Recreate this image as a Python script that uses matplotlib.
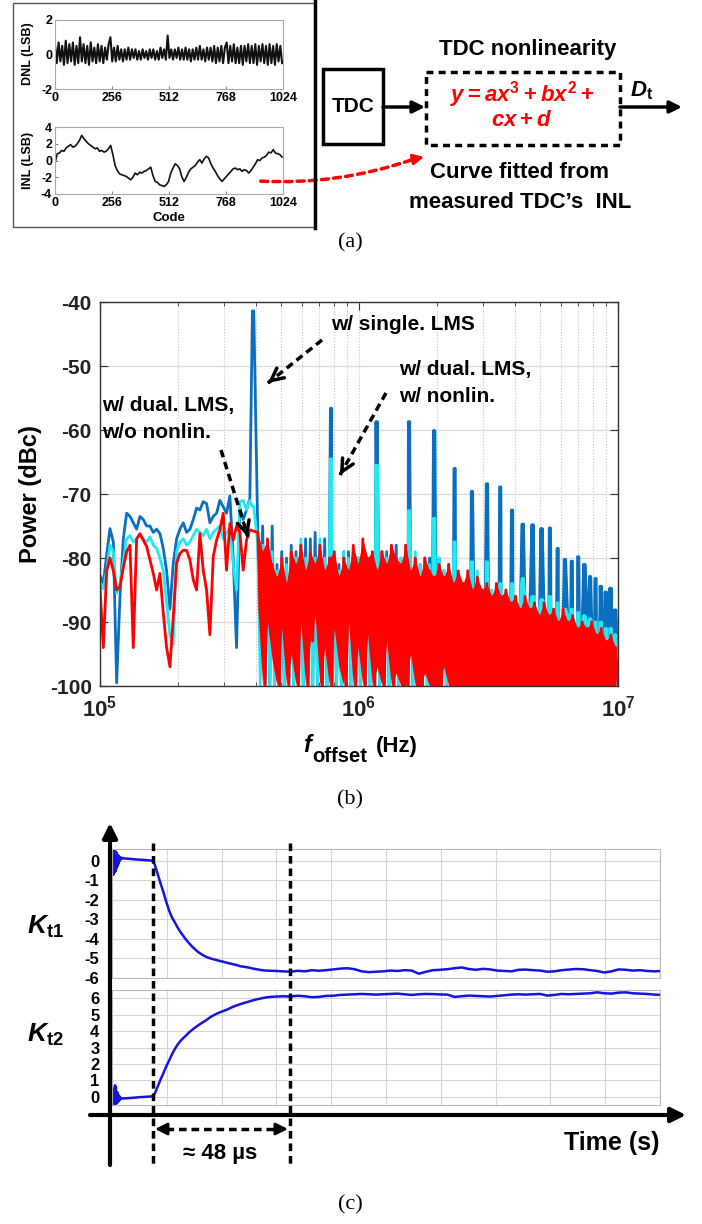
import numpy as np
import matplotlib.pyplot as plt
from matplotlib.patches import Rectangle, FancyArrowPatch

W, H = 702, 1224

plt.rcParams['font.family'] = 'Liberation Sans'
plt.rcParams['font.weight'] = 'bold'
plt.rcParams['axes.unicode_minus'] = False
plt.rcParams['mathtext.fontset'] = 'custom'
plt.rcParams['mathtext.rm'] = 'Liberation Sans:bold'
plt.rcParams['mathtext.it'] = 'Liberation Sans:italic:bold'
plt.rcParams['mathtext.bf'] = 'Liberation Sans:bold'

# ---------------- (a) measured TDC linearity ----------------
code_ticks = [0, 256, 512, 768, 1024]
dnl_code = np.linspace(0, 1020, 128)
dnl_lsb = [0.6, -0.5, 0.7, -0.4, 0.5, -0.6, 0.8, -0.5, 0.6, -0.4,
           0.7, -0.6, 0.5, -0.5, 1.0, -0.4, 0.6, -0.5, 0.5, -0.6,
           0.7, -0.4, 0.4, -0.5, 0.6, -0.4, 0.5, -0.5, 0.4, -0.3,
           0.6, 1.0, -0.4, 0.4, -0.4, 0.5, -0.3, 0.3, -0.4, 0.3,
           -0.3, 0.4, -0.3, 0.3, -0.2, 0.3, -0.3, 0.2, -0.3, 0.3,
           -0.2, 0.2, -0.3, 0.3, -0.2, 0.3, -0.3, 0.2, -0.3, 0.4,
           -0.2, 0.3, -0.3, 1.1, -0.2, 0.3, -0.3, 0.3, -0.2, 0.4,
           -0.3, 0.3, -0.3, 0.4, -0.3, 0.3, -0.4, 0.3, -0.3, 0.4,
           -0.3, 0.5, -0.3, 0.3, -0.4, 0.4, -0.3, 0.4, -0.4, 0.5,
           -0.5, 0.4, -0.4, 0.5, -0.5, 0.4, 0.7, -0.5, 0.5, -0.4,
           0.6, -0.5, 0.4, -0.5, 0.5, -0.6, 0.5, -0.4, 0.6, -0.5,
           0.5, -0.5, 0.6, -0.6, 0.5, -0.4, 0.6, -0.5, 0.5, -0.6,
           0.6, -0.5, 0.5, -0.6, 0.6, -0.4, 0.5, -0.5]
inl_code = np.arange(0, 1021, 10)
inl_lsb = [-0.3, 0.8, 0.9, 1.2, 1.1, 1.5, 1.7, 1.9, 1.6, 1.7,
           2.0, 2.4, 3.0, 2.6, 2.3, 2.0, 1.8, 1.6, 1.4, 1.5,
           1.1, 1.2, 1.0, 1.1, 1.4, 1.8, 0.7, -0.6, -1.2, -1.6,
           -1.7, -1.8, -1.9, -2.1, -2.3, -2.0, -1.5, -1.7, -1.4, -1.5,
           -1.3, -1.2, -1.0, -0.8, -1.8, -2.5, -2.6, -2.9, -3.0, -3.1,
           -2.9, -2.5, -1.5, -0.9, -0.4, -0.6, -1.0, -2.0, -2.5, -2.0,
           -1.4, -1.0, -0.8, -0.6, -0.2, 0.1, -0.3, 0.2, 0.5, 0.3,
           -0.4, -0.9, -1.3, -1.8, -2.2, -2.5, -2.2, -1.9, -1.6, -1.3,
           -1.0, -0.9, -1.1, -1.0, -1.3, -1.1, -1.2, -1.5, -1.2, -0.8,
           -0.4, 0.1, 0.0, 0.3, 0.4, 0.6, 1.0, 0.9, 1.3, 0.9,
           0.8, 0.7, 0.4]

# ---------------- (b) phase-noise spectra ----------------
f_low = np.geomspace(1e5, 3.79e5, 46)
blue_low = [-82.7, -84.0, -79.5, -75.4, -77.5, -99.5, -86.0, -77.0, -73.0, -73.5,
            -74.5, -75.5, -73.5, -74.0, -75.0, -75.0, -76.0, -75.5, -76.2, -78.5,
            -82.0, -88.0, -80.8, -77.0, -75.5, -74.5, -76.0, -75.5, -74.0, -72.2,
            -72.5, -71.2, -71.5, -74.5, -73.5, -73.0, -71.0, -72.0, -73.0, -70.3,
            -80.0, -94.0, -72.2, -74.0, -72.5, -70.7]
cyan_low = [-84.0, -84.8, -82.0, -78.0, -79.0, -85.5, -84.0, -80.5, -77.0, -76.5,
            -77.5, -77.0, -76.5, -77.0, -77.5, -76.7, -78.0, -78.5, -80.0, -82.0,
            -87.0, -92.0, -93.5, -79.0, -77.5, -77.0, -78.0, -77.5, -76.5, -75.5,
            -76.0, -76.5, -75.5, -77.0, -76.0, -75.5, -75.0, -77.0, -76.0, -75.5,
            -81.0, -85.0, -71.2, -71.0, -72.5, -71.0]
red_low = [-84.7, -94.0, -82.0, -80.0, -82.0, -85.0, -84.5, -81.5, -79.0, -78.0,
           -94.0, -77.0, -76.2, -77.2, -78.2, -80.3, -82.4, -85.0, -82.4, -88.6,
           -94.0, -97.0, -89.2, -80.8, -79.3, -78.8, -78.8, -80.3, -83.4, -85.0,
           -76.2, -81.9, -85.0, -92.0, -79.8, -77.2, -75.6, -73.0, -81.9, -74.6,
           -77.2, -75.0, -76.0, -81.9, -77.2, -75.6]

# dense part above ~400 kHz: peak / trough pairs
f_dense = np.geomspace(4.07e5, 1e7, 152)
red_hi = [-76, -79, -77, -81, -83, -80, -84, -79, -81, -78,
          -82, -79, -81, -78, -82, -80, -79, -83, -80, -82,
          -78, -81, -77, -80, -79, -82, -79, -81, -78, -80,
          -81, -78, -82, -80, -83, -80, -82, -83, -81, -83,
          -81, -84, -82, -84, -82, -85, -83, -85, -84, -86,
          -84, -86, -85, -87, -86, -88, -86, -88, -87, -89,
          -87, -89, -88, -90, -88, -90, -89, -91, -90, -91,
          -90, -92, -91, -93, -92, -94]
red_lo = [-88, -100, -90, -96, -100, -91, -100, -95, -100, -90,
          -100, -93, -89, -100, -94, -100, -91, -97, -100, -90,
          -100, -94, -100, -92, -100, -97, -100, -93, -100, -98,
          -100, -100, -95, -100, -100, -98, -100, -100, -100, -97] + [-100] * 36
cyan_hi = [-78, -78, -79, -79, -82, -80, -81, -79, -80, -77,
           -80, -79, -80, -77, -80, -80, -79, -82, -79, -80,
           -80, -80, -79, -81, -80, -81, -80, -80, -78, -80,
           -80, -79, -80, -79, -81, -80, -81, -81, -80, -82,
           -82, -82, -83, -84, -82, -85, -82, -86, -84, -85,
           -85, -85, -85, -87, -87, -87, -86, -88, -86, -88,
           -87, -88, -88, -90, -88, -89, -89, -90, -90, -91,
           -90, -91, -91, -92, -92, -93]
cyan_lo = [-100, -95, -100, -100, -96, -100, -100, -100, -97, -100,
           -94, -100, -100, -96, -100, -100, -100, -100, -96, -100,
           -100, -100, -97, -100, -100, -100, -96, -100, -100, -100] + [-100] * 46
blue_hi = [-77, -75, -78, -75, -81, -79, -80, -78, -79, -78,
           -77, -77, -76, -79, -77, -80, -80, -81, -79, -79,
           -79, -80, -79, -81, -80, -80, -79, -79, -79, -78,
           -80, -78, -80, -80, -81, -80, -80, -81, -80, -82,
           -81, -83, -83, -84, -83, -85, -83, -85, -85, -86,
           -84, -86, -86, -87, -86, -88, -87, -88, -87, -89,
           -88, -89, -88, -90, -89, -90, -89, -91, -90, -91,
           -90, -92, -91, -93, -92, -94]
blue_lo = [-94, -100, -100, -98, -100, -100, -97, -100, -100, -100] + [-100] * 66

# spurs at harmonics of the ~390 kHz fractional spur
f_spur0 = 3.9e5
harmonic = np.arange(1, 26)
blue_spur = [-41.4, -56.6, -58.7, -58.7, -60.1, -66.0, -69.6, -68.4, -68.9, -72.5,
             -74.7, -74.8, -75.4, -75.3, -78.5, -80.2, -80.5, -79.8, -81.0, -82.9,
             -83.2, -84.4, -85.3, -84.7, -88.1]
cyan_spur = [-72.0, -64.5, -65.5, -72.6, -73.8, -77.5, -80.6, -80.6, -84.0, -84.0,
             -83.2, -86.0, -86.5, -86.0, -87.0, -88.0, -88.0, -88.5, -89.0, -89.5,
             -90.0, -90.0, -91.0, -91.0, -92.0]

# ---------------- (c) LMS convergence ----------------
t_ring = [0, 0.15, 0.3, 0.45, 0.6, 0.75, 0.9, 1.05, 1.2, 1.35, 1.5, 1.65, 1.8, 1.95,
          2.1, 2.25, 2.4, 2.55, 2.7, 2.85, 3.0, 3.5]
kt1_ring = [0.1, 0.68, -0.72, 0.6, -0.7, 0.62, -0.6, 0.5, -0.55, 0.45, -0.4, 0.4,
            -0.3, 0.3, -0.2, 0.25, -0.1, 0.2, 0.0, 0.18, 0.05, 0.15]
kt2_ring = [0.0, 0.35, -0.6, 0.3, -0.55, 0.5, -0.5, 0.7, -0.45, 0.6, -0.4, 0.3,
            -0.35, 0.25, -0.3, 0.1, -0.25, 0.05, -0.2, -0.05, -0.15, -0.1]
t_flat = [4, 6, 8, 10, 12, 14.3]
kt1_flat = [0.12, 0.1, 0.07, 0.05, 0.03, 0.0]
kt2_flat = [-0.1, -0.08, -0.05, -0.02, 0.0, 0.03]
t_rise = [15, 16, 17, 18, 19, 20, 21, 22, 23, 24, 25, 26, 27, 28, 29, 30,
          31.5, 33, 34.5, 36, 37.5, 39, 40.5, 42, 43.5, 45, 46.5, 48, 49.5, 51,
          52.5, 54, 55.5]
kt1_rise = [-0.2, -0.68, -1.15, -1.6, -2.1, -2.55, -2.9, -3.15, -3.42, -3.65,
            -3.85, -4.05, -4.22, -4.38, -4.52, -4.65, -4.8, -4.92, -5.0, -5.06,
            -5.12, -5.17, -5.23, -5.28, -5.33, -5.4, -5.43, -5.47, -5.52, -5.56,
            -5.6, -5.62, -5.63]
kt2_rise = [0.2, 0.62, 1.05, 1.43, 1.85, 2.2, 2.58, 2.9, 3.18, 3.4,
            3.58, 3.74, 3.92, 4.06, 4.2, 4.32, 4.5, 4.66, 4.85, 5.0,
            5.12, 5.22, 5.32, 5.45, 5.55, 5.64, 5.72, 5.8, 5.88, 5.94,
            6.0, 6.05, 6.08]
t_steady = np.arange(57.5, 193, 2.5)
kt1_steady = [-5.64, -5.66, -5.68, -5.63, -5.66, -5.6, -5.63, -5.6, -5.56, -5.52,
              -5.5, -5.55, -5.66, -5.7, -5.68, -5.66, -5.62, -5.64, -5.6, -5.62,
              -5.78, -5.68, -5.6, -5.58, -5.55, -5.5, -5.46, -5.54, -5.58, -5.53,
              -5.56, -5.62, -5.64, -5.66, -5.58, -5.57, -5.6, -5.62, -5.68, -5.66,
              -5.6, -5.57, -5.54, -5.55, -5.6, -5.64, -5.72, -5.66, -5.56, -5.58,
              -5.62, -5.6, -5.64, -5.66, -5.64]
kt2_steady = [6.1, 6.12, 6.1, 6.15, 6.12, 6.06, 6.08, 6.14, 6.15, 6.2,
              6.22, 6.24, 6.26, 6.24, 6.22, 6.24, 6.26, 6.28, 6.24, 6.2,
              6.24, 6.26, 6.25, 6.23, 6.22, 6.08, 6.12, 6.16, 6.14, 6.12,
              6.1, 6.14, 6.18, 6.22, 6.24, 6.22, 6.24, 6.26, 6.16, 6.2,
              6.26, 6.24, 6.26, 6.28, 6.3, 6.36, 6.3, 6.28, 6.34, 6.36,
              6.3, 6.28, 6.26, 6.22, 6.2]


def box(x0, y0, x1, y1):
    # pixel rectangle (origin top-left) -> figure fraction
    return [x0 / W, 1 - y1 / H, (x1 - x0) / W, (y1 - y0) / H]


def spectrum(low, hi, lo, spur=None):
    f = [f_low, f_dense]
    p = [low, np.column_stack([hi, lo]).ravel()]
    if spur is not None:
        # spur drawn a few pixels wide, flat top
        sf = f_spur0 * harmonic
        f += [sf * 0.994, sf * 1.006]
        p += [spur, spur]
    f = np.concatenate(f)
    p = np.concatenate(p)
    order = np.argsort(f)
    return f[order], p[order]


fig = plt.figure(figsize=(W / 100, H / 100), dpi=100)

# ----- panel (a) small plots -----
for rect, x, y, lim, yt, lw in [((55, 20, 283, 89), dnl_code, dnl_lsb, 2, [-2, 0, 2], 1.5),
                                ((55, 127, 283, 194), inl_code, inl_lsb, 4, [-4, -2, 0, 2, 4], 1.2)]:
    ax = fig.add_axes(box(*rect))
    ax.plot(x, y, color='#111111', lw=lw)
    ax.set_xlim(0, 1024)
    ax.set_ylim(-lim, lim)
    ax.set_xticks(code_ticks)
    ax.set_yticks(yt)
    ax.tick_params(labelsize=9, direction='in', length=2, pad=2, colors='#888888', labelcolor='black')
    for s in ax.spines.values():
        s.set_color('#aaaaaa')
        s.set_linewidth(0.8)

# ----- panel (b) spectrum -----
ax_b = fig.add_axes(box(100, 302, 618, 686))
f_pair = f_dense[0::2]
fb, pb = spectrum(blue_low, blue_hi, blue_lo, blue_spur)
fc, pc = spectrum(cyan_low, cyan_hi, cyan_lo, cyan_spur)
fr, pr = spectrum(red_low, red_hi, red_lo)
ax_b.plot(fb, pb, color='#0a6fbf', lw=2.0, zorder=2.0)
ax_b.plot(fc, pc, color='#22e8f2', lw=2.0, zorder=2.1)
ax_b.fill_between(f_pair, red_lo, red_hi, color='#ff0000', lw=0, zorder=2.2)
ax_b.plot(fr, pr, color='#ff0000', lw=2.0, zorder=2.3)
ax_b.set_xscale('log')
ax_b.set_xlim(1e5, 1e7)
ax_b.set_ylim(-100, -40)
ax_b.set_yticks(range(-100, -39, 10))
ax_b.set_xticks([1e5, 1e6, 1e7], [r'$10^{5}$', r'$10^{6}$', r'$10^{7}$'])
ax_b.set_axisbelow(True)
ax_b.grid(True, which='major', axis='y', color='#dddddd', lw=1.0)
ax_b.grid(True, which='both', axis='x', color='#c4c4c4', lw=0.8, ls=':')
ax_b.tick_params(which='both', direction='in', top=True, right=True, colors='#333333', labelcolor='#222222')
ax_b.tick_params(which='major', length=6, labelsize=15, pad=6)
ax_b.tick_params(axis='x', which='major', labelsize=16, pad=7)
ax_b.tick_params(which='minor', length=3)
for s in ax_b.spines.values():
    s.set_color('#333333')
    s.set_linewidth(1.0)
    s.set_zorder(3)

# ----- panel (c) convergence -----
kt_t = np.concatenate([t_ring, t_flat, t_rise, t_steady])
kt1 = np.concatenate([kt1_ring, kt1_flat, kt1_rise, kt1_steady])
kt2 = np.concatenate([kt2_ring, kt2_flat, kt2_rise, kt2_steady])
for rect, vals, ylim, yt in [((112, 849, 660, 978), kt1, (-6.0, 0.6), range(-6, 1)),
                             ((112, 990, 660, 1105), kt2, (-0.5, 6.5), range(0, 7))]:
    ax = fig.add_axes(box(*rect))
    ax.plot(kt_t, vals, color='#1414dc', lw=1.8)
    ax.set_xlim(0, 192)
    ax.set_ylim(*ylim)
    ax.set_xticks(np.arange(0, 193, 19.2))
    ax.set_xticklabels([])
    ax.set_yticks(list(yt))
    ax.grid(True, color='#d4d4d4', lw=0.8)
    ax.tick_params(length=0, labelsize=12, pad=9)
    for s in ax.spines.values():
        s.set_color('#bbbbbb')
        s.set_linewidth(0.8)

# ----- overlay for diagrams, labels and arrows (pixel coordinates) -----
ov = fig.add_axes([0, 0, 1, 1])
ov.set_xlim(0, W)
ov.set_ylim(H, 0)
ov.axis('off')
ov.set_zorder(10)


def arrow(x0, y0, x1, y1, color='black', lw=2.5, ms=18):
    ov.annotate('', xy=(x1, y1), xytext=(x0, y0),
                arrowprops=dict(arrowstyle='-|>', color=color, lw=lw,
                                mutation_scale=ms, shrinkA=0, shrinkB=0))


def dashed_arrow(x0, y0, x1, y1):
    ov.plot([x0, x1], [y0, y1], color='black', lw=2.5, ls=(0, (2.2, 1.4)))
    ov.annotate('', xy=(x1, y1), xytext=(x1 - (x1 - x0) * 0.02, y1 - (y1 - y0) * 0.02),
                arrowprops=dict(arrowstyle='->', color='black', lw=2.5,
                                mutation_scale=22, shrinkA=0, shrinkB=0))


serif = dict(family='Liberation Serif', weight='normal', fontsize=16, ha='center', va='center')

# (a) frame, labels, block diagram
ov.add_patch(Rectangle((13, 3), 302, 224, fill=False, ec='#555555', lw=1.0))
ov.plot([315, 315], [1, 228], color='black', lw=2.5)
ov.text(28, 54, 'DNL (LSB)', fontsize=9, rotation=90, ha='center', va='center')
ov.text(28, 160, 'INL (LSB)', fontsize=9, rotation=90, ha='center', va='center')
ov.text(169, 218, 'Code', fontsize=9.5, ha='center', va='center')
ov.add_patch(Rectangle((323, 69), 60, 75, fill=False, ec='black', lw=2.5))
ov.text(353, 107, 'TDC', fontsize=15, ha='center', va='center')
arrow(383, 107, 425, 107)
ov.add_patch(Rectangle((426, 72), 194, 73, fill=False, ec='black', lw=2.5, ls=(0, (2, 1.5))))
ov.text(528, 50, 'TDC nonlinearity', fontsize=16, ha='center', va='center')
ov.text(522, 95, r'$y = ax^{3} + bx^{2} +$', color='red', fontsize=16, ha='center', va='center')
ov.text(522, 121, r'$cx + d$', color='red', fontsize=16, ha='center', va='center')
ov.text(630, 91, r'$D_{\mathrm{t}}$', fontsize=16, ha='left', va='center')
arrow(620, 107, 682, 107)
ov.text(520, 173, 'Curve fitted from', fontsize=16, ha='center', va='center')
ov.text(520, 202, 'measured TDC\u2019s  INL', fontsize=16, ha='center', va='center')
ov.add_patch(FancyArrowPatch((258, 181), (414, 159), connectionstyle='arc3,rad=0.1',
                             arrowstyle='-', color='red', lw=2.5, ls=(0, (2, 1.5))))
arrow(410, 160, 424, 157, color='red', lw=2, ms=16)
ov.text(350, 243, '(a)', **serif)

# (b) labels and annotations
ov.text(30, 494, 'Power (dBc)', fontsize=17, rotation=90, ha='center', va='center')
ov.text(311, 752, 'f', fontsize=17, style='italic', ha='right', va='baseline')
ov.text(312, 762, 'offset', fontsize=14.5, ha='left', va='baseline')
ov.text(376, 752, '(Hz)', fontsize=16, ha='left', va='baseline')
ov.text(350, 800, '(b)', **serif)
ov.text(331, 325, 'w/ single. LMS', fontsize=15, ha='left', va='center')
ov.text(399, 369, 'w/ dual. LMS,', fontsize=15, ha='left', va='center')
ov.text(399, 396, 'w/ nonlin.', fontsize=15, ha='left', va='center')
ov.text(102, 405, 'w/ dual. LMS,', fontsize=15, ha='left', va='center')
ov.text(102, 432, 'w/o nonlin.', fontsize=15, ha='left', va='center')
dashed_arrow(322, 340, 268, 383)
dashed_arrow(386, 393, 340, 475)
dashed_arrow(221, 450, 248, 537)

# (c) axes arrows, markers and labels
arrow(110, 1165, 110, 823, lw=3, ms=22)
arrow(90, 1115, 686, 1115, lw=3, ms=22)
for x in (153, 290):
    ov.plot([x, x], [843, 1165], color='black', lw=2.5, ls=(0, (2.2, 1.4)))
ov.plot([166, 278], [1129, 1129], color='black', lw=2.5, ls=(0, (2.2, 1.4)))
arrow(168, 1129, 155, 1129, lw=2, ms=18)
arrow(276, 1129, 288, 1129, lw=2, ms=18)
ov.text(220, 1154, '\u2248 48 \u00b5s', fontsize=16, ha='center', va='center')
ov.text(660, 1143, 'Time (s)', fontsize=18, ha='right', va='center')
ov.text(27, 927, r'$K_{\mathrm{t1}}$', fontsize=19, ha='left', va='center')
ov.text(27, 1035, r'$K_{\mathrm{t2}}$', fontsize=19, ha='left', va='center')
ov.text(350, 1205, '(c)', **serif)

fig.savefig('out.png', dpi=100)
